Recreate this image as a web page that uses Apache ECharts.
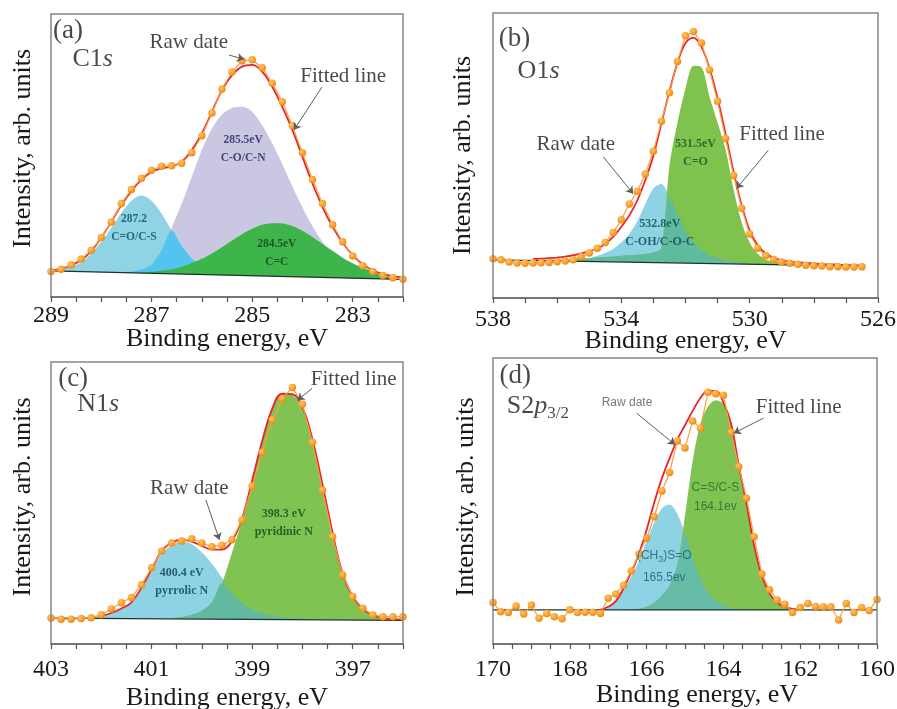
<!DOCTYPE html>
<html>
<head>
<meta charset="utf-8">
<script src="https://cdn.jsdelivr.net/npm/echarts@6/dist/echarts.min.js"></script>
<style>
html, body { margin: 0; padding: 0; background: #ffffff; }
#main { width: 897px; height: 709px; }
</style>
</head>
<body>
<div id="main"></div>
<script>
// ---------- (a) C1s ----------
const C1S_E = [289.0, 288.8, 288.6, 288.4, 288.2, 288.0, 287.8, 287.6, 287.4, 287.2, 287.0, 286.8, 286.6, 286.4, 286.2, 286.0, 285.8, 285.6, 285.4, 285.2, 285.0, 284.8, 284.6, 284.4, 284.2, 284.0, 283.8, 283.6, 283.4, 283.2, 283.0, 282.8, 282.6, 282.4, 282.2, 282.0];
const C1S_RAW = [9.0, 9.8, 11.4, 13.4, 16.5, 21.0, 26.5, 33.0, 38.0, 42.0, 44.8, 46.2, 46.4, 47.3, 51.0, 57.0, 65.0, 73.5, 79.5, 83.5, 83.8, 81.0, 75.5, 69.0, 60.5, 51.0, 41.5, 33.0, 25.5, 19.5, 14.5, 11.0, 9.0, 7.6, 6.8, 6.3];
const C1S_FIT = [9.3, 10.0, 11.2, 13.0, 16.3, 21.0, 26.5, 32.5, 37.5, 41.5, 44.2, 45.4, 46.2, 47.8, 51.9, 57.8, 65.4, 73.1, 78.4, 81.4, 82.0, 79.6, 74.3, 67.2, 59.0, 49.5, 40.1, 31.8, 24.8, 19.2, 14.8, 11.5, 9.4, 8.1, 7.4, 6.9];
const C1S_CO_CS = [9.5, 10.0, 10.9, 12.2, 15.5, 19.5, 24.5, 29.8, 34.0, 35.9, 34.0, 29.4, 23.5, 18.0, 13.6, 10.8, 9.4, 8.6, 8.2, 8.0, 7.8, null, null, null, null, null, null, null, null, null, null, null, null, null, null, null];
const C1S_CO_CN = [null, null, null, null, null, null, null, 8.6, 9.0, 9.8, 11.5, 16.5, 24.5, 33.0, 42.5, 52.0, 59.5, 64.5, 66.8, 67.2, 65.5, 60.7, 54.3, 46.9, 39.1, 31.6, 25.0, 19.5, 15.2, 12.1, 9.9, 8.5, 7.6, 6.9, 6.4, 6.2];
const C1S_CC = [null, null, null, null, null, null, null, null, null, 8.6, 8.9, 9.3, 9.8, 10.7, 12.0, 13.5, 15.4, 17.6, 20.0, 22.2, 24.1, 25.5, 26.1, 26.0, 25.1, 23.4, 21.2, 18.7, 16.3, 13.9, 11.9, 10.3, 9.0, 7.8, 7.0, 6.6];
const C1S_BG_E = [289, 282];
const C1S_BG = [9.2, 6.2];
const C1S_TICKS = [289, 288.5, 288, 287.5, 287, 286.5, 286, 285.5, 285, 284.5, 284, 283.5, 283, 282.5, 282];
const C1S_LABELS = [289, 287, 285, 283];

// ---------- (b) O1s ----------
const O1S_E = [538.0, 537.75, 537.5, 537.25, 537.0, 536.75, 536.5, 536.25, 536.0, 535.75, 535.5, 535.25, 535.0, 534.75, 534.5, 534.25, 534.0, 533.75, 533.5, 533.25, 533.0, 532.75, 532.5, 532.25, 532.0, 531.75, 531.5, 531.25, 531.0, 530.75, 530.5, 530.25, 530.0, 529.75, 529.5, 529.25, 529.0, 528.75, 528.5, 528.25, 528.0, 527.75, 527.5, 527.25, 527.0, 526.75, 526.5];
const O1S_RAW = [13.8, 13.4, 12.6, 12.3, 12.2, 12.3, 12.4, 12.5, 12.7, 13.0, 13.4, 14.5, 15.8, 17.5, 19.5, 23.0, 27.5, 33.0, 37.5, 43.5, 51.5, 62.0, 72.0, 83.0, 92.0, 93.5, 89.5, 80.0, 69.0, 56.0, 43.0, 31.5, 22.5, 17.5, 14.8, 13.5, 12.6, 12.2, 11.8, 11.5, 11.3, 11.2, 11.0, 11.0, 10.9, 10.9, 11.0];
const O1S_FIT = [null, null, null, null, null, 13.7, 13.8, 14.0, 14.2, 14.5, 15.0, 15.7, 16.4, 17.3, 19.0, 21.5, 25.0, 29.0, 34.3, 41.5, 50.0, 61.3, 72.5, 82.5, 89.5, 91.3, 88.0, 80.5, 70.0, 57.5, 44.2, 32.5, 23.7, 18.5, 15.6, 14.1, 13.3, 12.8, 12.5, 12.3, 12.1, 11.9, 11.8, 11.7, 11.6, 11.5, 11.4];
const O1S_COH = [null, null, null, null, null, null, null, null, null, null, 12.9, 13.3, 13.9, 14.8, 15.8, 17.3, 19.5, 22.5, 27.0, 33.0, 38.5, 40.0, 35.5, 29.5, 23.5, 19.5, 16.8, 15.0, 13.9, 13.2, 12.8, 12.5, 12.3, null, null, null, null, null, null, null, null, null, null, null, null, null, null];
const O1S_CO = [null, null, null, null, null, null, 13.3, 13.4, 13.5, 13.6, 13.7, 13.8, 14.0, 14.2, 14.4, 14.6, 14.8, 15.0, 15.2, 15.5, 16.0, 17.5, 46.5, 61.5, 73.5, 81.5, 81.0, 70.5, 61.5, 52.0, 38.0, 26.5, 19.5, 15.5, 13.5, 12.8, 12.5, 12.3, 12.2, 12.1, 12.0, 11.9, 11.8, 11.7, 11.6, 11.5, 11.4];
const O1S_BG_E = [538, 526.5];
const O1S_BG = [13.4, 11.2];
const O1S_TICKS = [538, 537, 536, 535, 534, 533, 532, 531, 530, 529, 528, 527, 526];
const O1S_LABELS = [538, 534, 530, 526];

// ---------- (c) N1s ----------
const N1S_E = [403.0, 402.8, 402.6, 402.4, 402.2, 402.0, 401.8, 401.6, 401.4, 401.2, 401.0, 400.8, 400.6, 400.4, 400.2, 400.0, 399.8, 399.6, 399.4, 399.2, 399.0, 398.8, 398.6, 398.4, 398.2, 398.0, 397.8, 397.6, 397.4, 397.2, 397.0, 396.8, 396.6, 396.4, 396.2, 396.0];
const N1S_RAW = [9.2, 8.8, 8.8, 9.0, 9.3, 10.4, 12.4, 14.6, 16.5, 21.0, 27.0, 33.0, 35.8, 36.5, 37.3, 35.8, 34.5, 35.0, 37.0, 44.0, 56.0, 68.0, 79.5, 87.0, 91.0, 85.0, 71.5, 54.5, 38.0, 24.5, 16.8, 12.7, 10.3, 9.7, 9.7, 9.7];
const N1S_FIT = [null, null, null, null, null, 10.0, 11.0, 12.6, 14.8, 20.0, 26.5, 33.0, 36.0, 37.0, 36.3, 34.8, 33.5, 33.5, 36.5, 44.5, 58.0, 72.0, 83.5, 88.8, 88.6, 84.0, 72.5, 56.5, 39.5, 25.0, 16.8, 12.5, 10.2, 9.2, 8.8, 8.6];
const N1S_PYRROLIC = [null, null, null, 9.3, 9.8, 10.3, 11.2, 12.6, 14.8, 19.5, 26.0, 32.0, 35.0, 36.3, 35.5, 32.5, 28.5, 23.5, 18.0, 14.5, 12.2, 10.8, 10.0, 9.5, 9.2, 9.0, null, null, null, null, null, null, null, null, null, null];
const N1S_PYRIDINIC = [null, null, null, null, null, null, null, null, null, null, null, null, 9.2, 9.6, 10.4, 11.8, 14.8, 21.5, 32.5, 44.0, 58.0, 72.0, 83.5, 88.8, 88.3, 83.5, 72.5, 56.5, 39.5, 24.8, 16.5, 12.2, 10.0, 9.1, 8.7, 8.5];
const N1S_BG_E = [403, 396];
const N1S_BG = [9.2, 8.4];
const N1S_TICKS = [403, 402.5, 402, 401.5, 401, 400.5, 400, 399.5, 399, 398.5, 398, 397.5, 397, 396.5, 396];
const N1S_LABELS = [403, 401, 399, 397];

// ---------- (d) S2p3/2 ----------
const S2P_E = [170.0, 169.8, 169.6, 169.4, 169.2, 169.0, 168.8, 168.6, 168.4, 168.2, 168.0, 167.8, 167.6, 167.4, 167.2, 167.0, 166.8, 166.6, 166.4, 166.2, 166.0, 165.8, 165.6, 165.4, 165.2, 165.0, 164.8, 164.6, 164.4, 164.2, 164.0, 163.8, 163.6, 163.4, 163.2, 163.0, 162.8, 162.6, 162.4, 162.2, 162.0, 161.8, 161.6, 161.4, 161.2, 161.0, 160.8, 160.6, 160.4, 160.2, 160.0];
const S2P_RAW = [14.5, 11.3, 11.0, 13.3, 10.5, 13.6, 9.0, 10.7, 9.5, 8.8, 12.0, 11.0, 11.1, 11.1, 10.7, 16.0, 17.5, 20.5, 25.5, 31.5, 37.0, 44.5, 53.5, 60.0, 71.0, 68.5, 78.0, 75.5, 88.0, 87.5, 87.0, 74.0, 62.0, 51.0, 37.5, 24.5, 19.0, 15.4, 13.9, 11.0, 12.8, 14.2, 13.1, 13.0, 13.0, 8.4, 14.2, 11.0, 12.8, 11.7, 15.6];
const S2P_FIT = [null, null, null, null, null, null, null, null, null, null, null, null, null, null, 12.0, 13.0, 15.0, 19.5, 25.0, 31.5, 39.9, 49.5, 58.0, 65.0, 71.5, 76.5, 81.5, 86.0, 88.5, 88.5, 84.5, 77.0, 62.5, 49.2, 34.5, 24.0, 17.7, 14.5, 13.0, 12.3, 12.0, null, null, null, null, null, null, null, null, null, null];
const S2P_SO = [null, null, null, null, null, null, null, null, null, null, null, null, null, null, 12.0, 12.8, 14.8, 19.0, 23.5, 29.0, 36.0, 42.5, 47.5, 48.8, 45.5, 38.5, 30.0, 23.0, 18.0, 15.0, 13.5, 12.6, 12.2, 12.0, null, null, null, null, null, null, null, null, null, null, null, null, null, null, null, null, null];
const S2P_CS = [null, null, null, null, null, null, null, null, null, null, null, null, null, null, null, null, null, null, 12.0, 12.3, 13.0, 14.5, 17.0, 20.5, 27.5, 45.0, 64.0, 77.0, 83.0, 85.2, 84.0, 76.5, 62.5, 49.2, 34.5, 24.0, 17.7, 14.5, 12.8, 12.2, 12.0, null, null, null, null, null, null, null, null, null, null];
const S2P_BG_E = [170, 160];
const S2P_BG = [11.9, 11.9];
const S2P_TICKS = [170, 169.5, 169, 168.5, 168, 167.5, 167, 166.5, 166, 165.5, 165, 164.5, 164, 163.5, 163, 162.5, 162, 161.5, 161, 160.5, 160];
const S2P_LABELS = [170, 168, 166, 164, 162, 160];

// ---------- drawing ----------
const SERIF = "'Liberation Serif','Times New Roman',serif";
const SANS = "'Liberation Sans',Arial,sans-serif";

const pairs = (xs, ys) => xs.map((x, i) => [x, ys[i] == null ? '-' : ys[i]]);
const lower = (a, b) => a.map((v, i) => (v == null || b[i] == null) ? null : Math.min(v, b[i]));

function fillSeries(gi, xs, ys, color, z) {
  return {
    type: 'line', xAxisIndex: gi, yAxisIndex: gi, data: pairs(xs, ys),
    symbol: 'none', smooth: 0.3, connectNulls: false, silent: true,
    lineStyle: { width: 0 }, areaStyle: { color: color, opacity: 1, origin: 'start' }, z: z
  };
}
function baseSeries(gi, xs, ys) {
  return {
    type: 'line', xAxisIndex: gi, yAxisIndex: gi, data: pairs(xs, ys), symbol: 'none', silent: true,
    lineStyle: { color: '#1e3328', width: 1.3 }, areaStyle: { color: '#ffffff', opacity: 1, origin: 'start' }, z: 3
  };
}
function fitSeries(gi, xs, ys) {
  return {
    type: 'line', xAxisIndex: gi, yAxisIndex: gi, data: pairs(xs, ys), symbol: 'none', smooth: 0.4,
    connectNulls: false, silent: true, lineStyle: { color: '#e8232b', width: 1.8 }, z: 4
  };
}
function rawSeries(gi, xs, ys) {
  return {
    type: 'line', xAxisIndex: gi, yAxisIndex: gi, data: pairs(xs, ys), symbol: 'circle', symbolSize: 7.5,
    showSymbol: true, showAllSymbol: true, silent: true,
    lineStyle: { color: '#f6a13c', width: 1.2 },
    itemStyle: { color: new echarts.graphic.RadialGradient(0.38, 0.35, 0.65, [
      { offset: 0, color: '#ffc46a' }, { offset: 1, color: '#f08a10' }]) },
    z: 5
  };
}
function noteSeries(gi, notes) {
  return {
    type: 'scatter', xAxisIndex: gi, yAxisIndex: gi, symbolSize: 1, silent: true,
    itemStyle: { color: 'rgba(0,0,0,0)' }, z: 8,
    data: notes.map(n => ({
      value: n.at,
      label: Object.assign({ show: true, position: 'inside', align: 'center', verticalAlign: 'middle',
        formatter: n.text, color: '#1a1a1a', fontFamily: SERIF, fontSize: 21 }, n.style || {})
    }))
  };
}
function arrowSeries(gi, arrows) {
  return {
    type: 'lines', coordinateSystem: 'cartesian2d', xAxisIndex: gi, yAxisIndex: gi, silent: true,
    symbol: ['none', 'arrow'], symbolSize: [0, 7], z: 7,
    lineStyle: { color: '#5e5e5e', width: 1, opacity: 1, curveness: 0 },
    data: arrows.map(a => ({ coords: a }))
  };
}

const richTitle = {
  n: { fontSize: 26, fontFamily: SERIF, color: '#1a1a1a' },
  i: { fontSize: 26, fontFamily: SERIF, fontStyle: 'italic', color: '#1a1a1a' },
  s: { fontSize: 17, fontFamily: SERIF, color: '#1a1a1a', padding: [14, 0, 0, 0] }
};
const comp = (color, size) => ({ fontSize: size || 11.5, fontWeight: 'bold', fontFamily: SERIF, color: color, lineHeight: 18 });

const grids = [
  { left: 51, top: 14, width: 352, height: 283 },
  { left: 493, top: 13, width: 385, height: 285 },
  { left: 51, top: 362, width: 352, height: 282 },
  { left: 493, top: 358, width: 384, height: 286 }
].map(g => Object.assign({ show: true, borderColor: '#858585', borderWidth: 1.5, backgroundColor: 'transparent', z: 10,
  outerBoundsMode: 'none' }, g));

function xAxis(gi, min, max, ticks, labels, margin, nameGap, namePad) {
  return {
    gridIndex: gi, type: 'value', min: min, max: max, inverse: true, z: 10,
    axisLine: { show: true, onZero: false, lineStyle: { color: '#6a6a6a', width: 1.5 } },
    axisTick: { show: true, customValues: ticks, length: 5, lineStyle: { color: '#555', width: 1.2 } },
    axisLabel: { customValues: labels, margin: margin, fontFamily: SERIF, fontSize: 24, color: '#1a1a1a' },
    splitLine: { show: false },
    name: 'Binding energy, eV', nameLocation: 'middle', nameGap: nameGap, nameMoveOverlap: false,
    nameTextStyle: { fontFamily: SERIF, fontSize: 26, color: '#1a1a1a', padding: namePad || 0 }
  };
}
function yAxis(gi, nameGap, namePad) {
  return {
    gridIndex: gi, type: 'value', min: 0, max: 100,
    axisLine: { show: false }, axisTick: { show: false }, axisLabel: { show: false }, splitLine: { show: false },
    name: 'Intensity, arb. units', nameLocation: 'middle', nameGap: nameGap, nameMoveOverlap: false,
    nameTextStyle: { fontFamily: SERIF, fontSize: 26, color: '#1a1a1a', padding: namePad || 0 }
  };
}

const series = [
  // (a)
  fillSeries(0, C1S_E, C1S_CO_CN, '#cac7e3', 2),
  fillSeries(0, C1S_E, C1S_CO_CS, '#8fd3e4', 2),
  fillSeries(0, C1S_E, lower(C1S_CO_CS, C1S_CO_CN), '#55c3ef', 2),
  fillSeries(0, C1S_E, C1S_CC, '#3db54a', 2),
  baseSeries(0, C1S_BG_E, C1S_BG),
  fitSeries(0, C1S_E, C1S_FIT),
  rawSeries(0, C1S_E, C1S_RAW),
  noteSeries(0, [
    { at: [288.66, 94.0], text: '(a)', style: { fontSize: 27 } },
    { at: [288.17, 84.0], text: '{n|C1}{i|s}', style: { rich: richTitle } },
    { at: [286.26, 89.8], text: 'Raw date' },
    { at: [283.19, 78.0], text: 'Fitted line' },
    { at: [287.35, 24.5], text: '287.2\nC=O/C-S', style: comp('#0d4d5c') },
    { at: [285.18, 52.2], text: '285.5eV\nC-O/C-N', style: comp('#24225e') },
    { at: [284.51, 15.4], text: '284.5eV\nC=C', style: comp('#133e1d') }
  ]),
  arrowSeries(0, [
    [[285.46, 85.5], [285.16, 84.0]],
    [[283.61, 74.2], [284.17, 59.0]]
  ]),
  // (b)
  fillSeries(1, O1S_E, O1S_COH, '#8dd3e3', 2),
  fillSeries(1, O1S_E, O1S_CO, '#7fc24d', 2),
  fillSeries(1, O1S_E, lower(O1S_COH, O1S_CO), '#5fbb9e', 2),
  baseSeries(1, O1S_BG_E, O1S_BG),
  fitSeries(1, O1S_E, O1S_FIT),
  rawSeries(1, O1S_E, O1S_RAW),
  noteSeries(1, [
    { at: [537.33, 90.8], text: '(b)', style: { fontSize: 27 } },
    { at: [536.58, 79.5], text: '{n|O1}{i|s}', style: { rich: richTitle } },
    { at: [535.42, 53.7], text: 'Raw date' },
    { at: [528.99, 57.2], text: 'Fitted line' },
    { at: [531.69, 50.9], text: '531.5eV\nC=O', style: comp('#0f5a28', 12) },
    { at: [532.80, 22.9], text: '532.8eV\nC-OH/C-O-C', style: comp('#0b4a4c', 12) }
  ]),
  arrowSeries(1, [
    [[534.56, 49.5], [533.63, 36.6]],
    [[529.42, 51.8], [530.41, 38.4]]
  ]),
  // (c)
  fillSeries(2, N1S_E, N1S_PYRROLIC, '#8ed3e3', 2),
  fillSeries(2, N1S_E, N1S_PYRIDINIC, '#80c352', 2),
  fillSeries(2, N1S_E, lower(N1S_PYRROLIC, N1S_PYRIDINIC), '#62b9a0', 2),
  baseSeries(2, N1S_BG_E, N1S_BG),
  fitSeries(2, N1S_E, N1S_FIT),
  rawSeries(2, N1S_E, N1S_RAW),
  noteSeries(2, [
    { at: [402.56, 93.9], text: '(c)', style: { fontSize: 27 } },
    { at: [402.06, 84.9], text: '{n|N1}{i|s}', style: { rich: richTitle } },
    { at: [400.25, 55.3], text: 'Raw date' },
    { at: [396.98, 93.7], text: 'Fitted line' },
    { at: [398.37, 43.1], text: '398.3 eV\npyridinic N', style: comp('#0e4a1e', 12) },
    { at: [400.40, 21.9], text: '400.4 eV\npyrrolic N', style: comp('#0b3f4c', 12) }
  ]),
  arrowSeries(2, [
    [[399.92, 51.1], [399.65, 36.9]],
    [[397.81, 90.6], [398.10, 86.4]]
  ]),
  // (d)
  fillSeries(3, S2P_E, S2P_SO, '#8ed3e3', 2),
  fillSeries(3, S2P_E, S2P_CS, '#80c352', 2),
  fillSeries(3, S2P_E, lower(S2P_SO, S2P_CS), '#66bba6', 2),
  baseSeries(3, S2P_BG_E, S2P_BG),
  fitSeries(3, S2P_E, S2P_FIT),
  rawSeries(3, S2P_E, S2P_RAW),
  noteSeries(3, [
    { at: [169.42, 93.8], text: '(d)', style: { fontSize: 27 } },
    { at: [168.83, 83.2], text: '{n|S2}{i|p}{s|3/2}', style: { rich: richTitle } },
    { at: [166.51, 84.3], text: 'Raw date', style: { fontFamily: SANS, fontSize: 12, color: '#555555' } },
    { at: [162.04, 82.6], text: 'Fitted line' },
    { at: [164.21, 51.5], text: 'C=S/C-S\n164.1ev', style: { fontFamily: SANS, fontSize: 12, color: '#1d6a2e', lineHeight: 19 } },
    { at: [165.54, 27.0], text: '(CH{b|3})S=O\n165.5ev', style: { fontFamily: SANS, fontSize: 12, color: '#17606f', lineHeight: 22,
        rich: { b: { fontFamily: SANS, fontSize: 9, color: '#17606f', padding: [7, 0, 0, 0] } } } }
  ]),
  arrowSeries(3, [
    [[166.26, 80.7], [165.26, 69.7]],
    [[162.95, 79.0], [163.73, 73.7]]
  ])
];

const chart = echarts.init(document.getElementById('main'), null, { renderer: 'canvas' });
chart.setOption({
  animation: false,
  backgroundColor: '#ffffff',
  grid: grids,
  xAxis: [
    xAxis(0, 282, 289, C1S_TICKS, C1S_LABELS, 7, 29),
    xAxis(1, 526, 538, O1S_TICKS, O1S_LABELS, 10, 30),
    xAxis(2, 396, 403, N1S_TICKS, N1S_LABELS, 14, 41),
    xAxis(3, 160, 170, S2P_TICKS, S2P_LABELS, 14, 38, [0, 0, 0, 24])
  ],
  yAxis: [
    yAxis(0, 15, [0, 0, 0, 14]),
    yAxis(1, 17),
    yAxis(2, 15, [0, 0, 0, 12]),
    yAxis(3, 14, [0, 0, 0, 8])
  ],
  series: series
});
</script>
</body>
</html>
